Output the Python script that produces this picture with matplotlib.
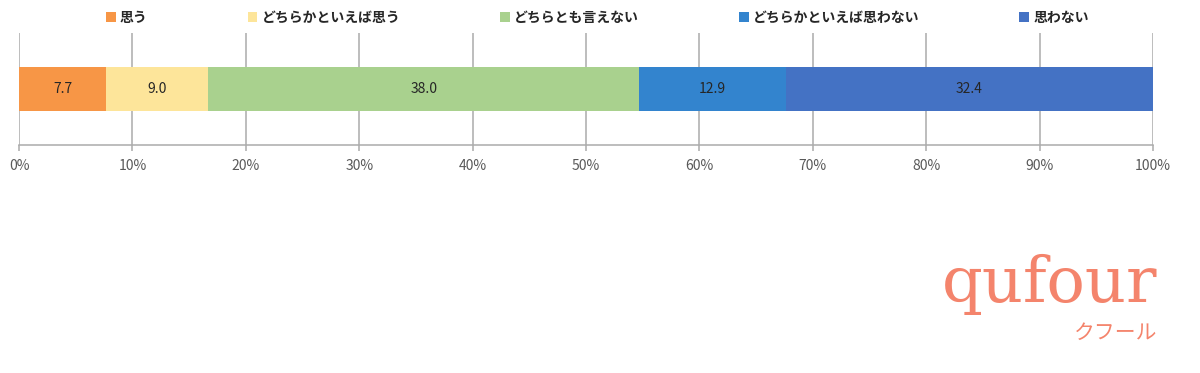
import matplotlib
matplotlib.use("Agg")
import matplotlib.pyplot as plt
from matplotlib.patches import Patch

plt.rcParams['font.family'] = ['Noto Sans CJK JP', 'DejaVu Sans']

categories = ["思う", "どちらかといえば思う", "どちらとも言えない", "どちらかといえば思わない", "思わない"]
values = [7.7, 9.0, 38.0, 12.9, 32.4]
colors = ["#F79646", "#FDE59A", "#A9D18E", "#3384CE", "#4472C4"]
xticks = [0, 10, 20, 30, 40, 50, 60, 70, 80, 90, 100]
xtick_labels = [f"{t}%" for t in xticks]

fig = plt.figure(figsize=(12, 3.73), dpi=100)
ax = fig.add_axes([19/1200, 1-145/373, (1153-19)/1200, 112/373])

left = 0.0
for cat, v, c in zip(categories, values, colors):
    ax.barh(0, v, left=left, height=0.40, color=c, label=cat, zorder=3)
    ax.text(left + v/2, 0, f"{v:.1f}", ha="center", va="center",
            fontsize=10, color="#262626", zorder=4)
    left += v

ax.set_xlim(0, 100)
ax.set_ylim(-0.5, 0.5)
ax.set_xticks(xticks)
ax.set_xticklabels(xtick_labels, fontsize=10, color="#595959")
ax.set_yticks([])
ax.grid(axis="x", color="#ABABAB", linewidth=1.1, zorder=0)
for s in ["top", "left", "right"]:
    ax.spines[s].set_visible(False)
ax.spines["bottom"].set_color("#ABABAB")
ax.spines["bottom"].set_linewidth(1.1)
ax.tick_params(axis="x", direction="out", length=4, color="#ABABAB", width=1.1, pad=6)

handles = [Patch(facecolor=c, edgecolor="none") for c in colors]
leg = fig.legend(handles, categories, loc="center left", bbox_to_anchor=(106/1200, 1-18/373),
                 ncol=5, frameon=False, handlelength=0.7, handleheight=0.7,
                 handletextpad=0.3, columnspacing=7.2, borderaxespad=0, borderpad=0,
                 prop={"family": ["Noto Sans CJK JP", "DejaVu Sans"], "size": 10, "weight": "bold"})
for t in leg.get_texts():
    t.set_color("#262626")

# watermark logo
fig.text(1050/1200, 1-302/373, "qufour", ha="center", va="baseline",
         fontsize=46, color="#F4846C", family="DejaVu Serif")
fig.text(1116/1200, 1-333/373, "クフール", ha="center", va="center",
         fontsize=15, color="#F4846C", family=["Noto Sans CJK JP", "DejaVu Sans"])

fig.savefig("out.png", dpi=100)
